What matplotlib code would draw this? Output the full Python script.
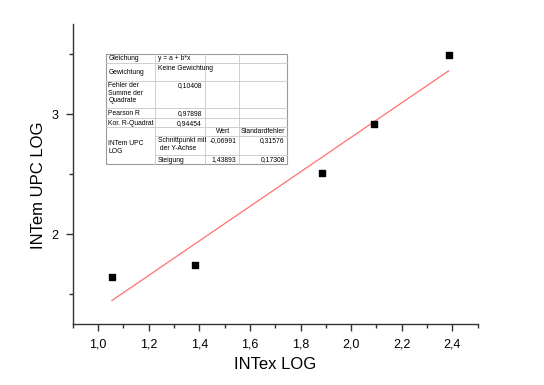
import numpy as np
import matplotlib
matplotlib.use("Agg")
import matplotlib.pyplot as plt
from matplotlib.ticker import MultipleLocator, FuncFormatter

plt.rcParams["font.family"] = ["Liberation Sans", "DejaVu Sans"]

# ── data ────────────────────────────────────────────────────────────
intex_log = [1.055, 1.382, 1.883, 2.089, 2.385]
intem_log = [1.642, 1.744, 2.511, 2.922, 3.497]
fit_a = -0.06991
fit_b = 1.43893

# fit summary table (Origin style)
table_rows = [
    ["Gleichung", "y = a + b*x", "", ""],
    ["Gewichtung", "Keine Gewichtung", "", ""],
    ["Fehler der\nSumme der\nQuadrate", "0,10408", "", ""],
    ["Pearson R", "0,97898", "", ""],
    ["Kor. R-Quadrat", "0,94454", "", ""],
    ["", "", "Wert", "Standardfehler"],
    ["INTem UPC\nLOG", "Schnittpunkt mit\n der Y-Achse", "-0,06991", "0,31576"],
    ["", "Steigung", "1,43893", "0,17308"],
]

W, H = 544, 385
fig = plt.figure(figsize=(W / 100, H / 100), dpi=100)
ax = fig.add_axes([72.7 / W, 1 - 324.3 / H, 405 / W, 300 / H])

xfit = np.array([min(intex_log), max(intex_log)])
ax.plot(xfit, fit_a + fit_b * xfit, color="#ff7070", linewidth=0.9)
ax.scatter(intex_log, intem_log, marker="s", s=25, color="black", zorder=3)

ax.set_xlim(0.9, 2.5)
ax.set_ylim(1.25, 3.75)
ax.xaxis.set_major_locator(MultipleLocator(0.2))
ax.xaxis.set_minor_locator(MultipleLocator(0.1))
ax.yaxis.set_major_locator(MultipleLocator(1))
ax.yaxis.set_minor_locator(MultipleLocator(0.5))
ax.xaxis.set_major_formatter(FuncFormatter(lambda v, p: f"{v:.1f}".replace(".", ",")))
ax.yaxis.set_major_formatter(FuncFormatter(lambda v, p: f"{v:.0f}"))
for s in ("top", "right"):
    ax.spines[s].set_visible(False)
for s in ("left", "bottom"):
    ax.spines[s].set_color("#333333")
    ax.spines[s].set_linewidth(1.0)
ax.tick_params(which="major", length=5, width=1, color="#333333", labelsize=9, pad=5)
ax.tick_params(which="minor", length=3, width=1, color="#333333")
ax.set_xlabel("INTex LOG", fontsize=12, labelpad=5)
ax.set_ylabel("INTem UPC LOG", fontsize=12)
ax.yaxis.set_label_coords(-0.066, 0.464)

# ── table drawn in pixel coordinates ────────────────────────────────
tx = fig.add_axes([0, 0, 1, 1], zorder=5)
tx.set_xlim(0, W)
tx.set_ylim(H, 0)
tx.axis("off")

cols = [105.7, 155, 205, 239.3, 286.7]
rows = [54, 63.3, 80.7, 108.3, 118.3, 126.7, 135.7, 155, 164]
grid = "#c8c8c8"
tx.add_patch(plt.Rectangle((cols[0], rows[0]), cols[-1] - cols[0], rows[-1] - rows[0],
                           facecolor="white", edgecolor="#9a9a9a", linewidth=0.8))
for y in rows[1:-1]:
    x0 = cols[1] if y in (135.7, 155) else cols[0]
    tx.plot([x0, cols[-1]], [y, y], color=grid, linewidth=0.6)
for x in cols[1:-1]:
    tx.plot([x, x], [rows[0], rows[-1]], color=grid, linewidth=0.6)

fs = 4.9
for i, row in enumerate(table_rows):
    top, bot = rows[i], rows[i + 1]
    for j, txt in enumerate(row):
        if not txt:
            continue
        if i == 6 and j == 0:
            tx.text(cols[0] + 2.5, (rows[5] + rows[8]) / 2 + 2, txt, fontsize=fs,
                    va="center", ha="left", linespacing=1.1)
            continue
        numeric = txt[0].isdigit() or txt.startswith("-")
        if i <= 4 and j == 1 and numeric:
            tx.text(cols[2] - 3, top + 1.5, txt, fontsize=fs, va="top", ha="right")
        elif i >= 5 and j >= 2:
            if j == 2:
                tx.text(cols[3] - 3 if numeric else (cols[2] + cols[3]) / 2 + 1, top + 1.5,
                        txt, fontsize=fs, va="top", ha="right" if numeric else "center")
            else:
                tx.text(cols[4] - 2 if numeric else cols[3] + 1.5, top + 1.5, txt,
                        fontsize=fs, va="top", ha="right" if numeric else "left")
        elif i == 1 and j == 0:
            tx.text(cols[0] + 2.5, (top + bot) / 2, txt, fontsize=fs, va="center", ha="left")
        else:
            tx.text(cols[j] + 2.5, top + 1.5, txt, fontsize=fs, va="top", ha="left",
                    linespacing=1.1)

fig.savefig("out.png", dpi=100)
